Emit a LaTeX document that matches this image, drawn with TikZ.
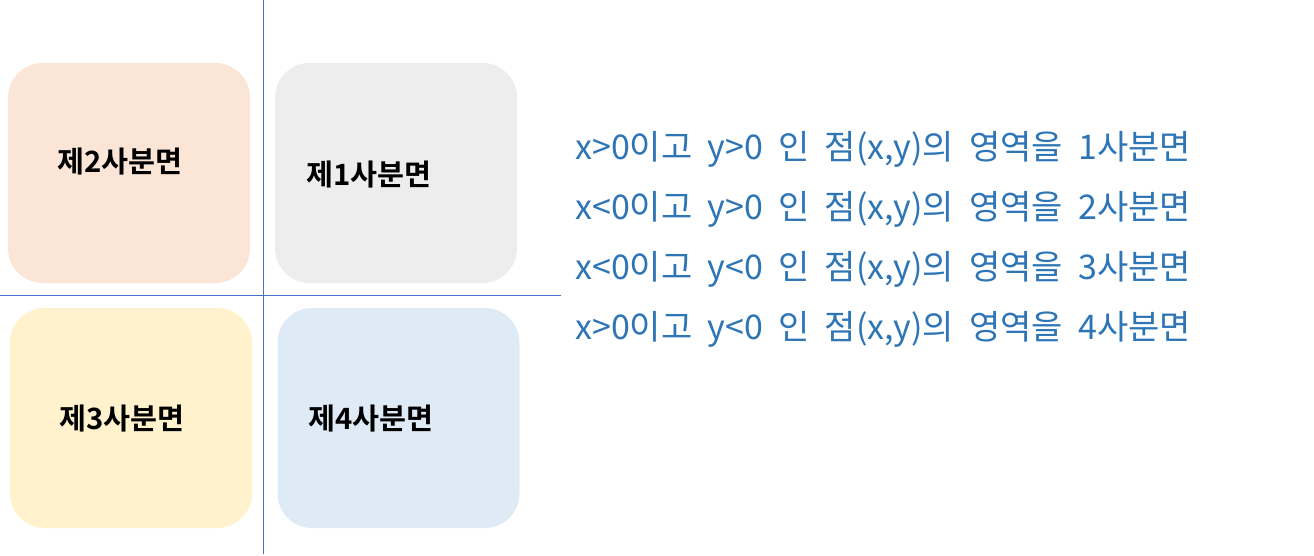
\documentclass[tikz,border=0pt]{standalone}
\usepackage{fontspec}
\usetikzlibrary{positioning}
\newfontfamily\kofont[WordSpace=2.0]{Noto Sans CJK KR}
\newfontfamily\kobold{Noto Sans CJK KR Bold}
\definecolor{axisblue}{HTML}{4472C4}
\definecolor{textblue}{HTML}{2E75B6}
\definecolor{qone}{HTML}{EDEDED}
\definecolor{qtwo}{HTML}{FBE5D6}
\definecolor{qthree}{HTML}{FFF2CC}
\definecolor{qfour}{HTML}{DEEBF7}
\tikzset{
  quadbox/.style={rounded corners=26pt, minimum width=181.5pt, minimum height=165pt, inner sep=0pt},
  quadname/.style={font=\kobold\fontsize{22}{26}\selectfont, inner sep=0pt},
  ruleline/.style={text=textblue, font=\kofont\fontsize{25.5}{30}\selectfont, anchor=west, inner sep=0pt}
}

\begin{document}
\begin{tikzpicture}[x=0.75pt, y=-0.75pt]
    \useasboundingbox (0,0) rectangle (1314,556);

    % axes
    \coordinate (ytop) at (263,0);
    \coordinate (ybot) at (263,554);
    \coordinate (xleft) at (0,295);
    \coordinate (xright) at (561,295);
    \draw[axisblue, line width=0.75pt] (ytop) -- (ybot);
    \draw[axisblue, line width=0.75pt] (xleft) -- (xright);

    % quadrants
    \node[quadbox, fill=qtwo] (box2) at (129,173) {};
    \node[quadbox, fill=qone] (box1) at (396,173) {};
    \node[quadbox, fill=qthree] (box3) at (131,418) {};
    \node[quadbox, fill=qfour] (box4) at (398.5,418) {};

    \node[quadname] (q2) at (120,162) {제2사분면};
    \node[quadname] (q1) at (369,175) {제1사분면};
    \node[quadname] (q3) at (122,419) {제3사분면};
    \node[quadname] (q4) at (371,419) {제4사분면};

    % rules
    \node[ruleline] (r1) at (575,149) {x>0이고 y>0 인 점(x,y)의 영역을 1사분면};
    \node[ruleline] (r2) at (575,209) {x<0이고 y>0 인 점(x,y)의 영역을 2사분면};
    \node[ruleline] (r3) at (575,269) {x<0이고 y<0 인 점(x,y)의 영역을 3사분면};
    \node[ruleline] (r4) at (575,329) {x>0이고 y<0 인 점(x,y)의 영역을 4사분면};

\end{tikzpicture}
\end{document}
